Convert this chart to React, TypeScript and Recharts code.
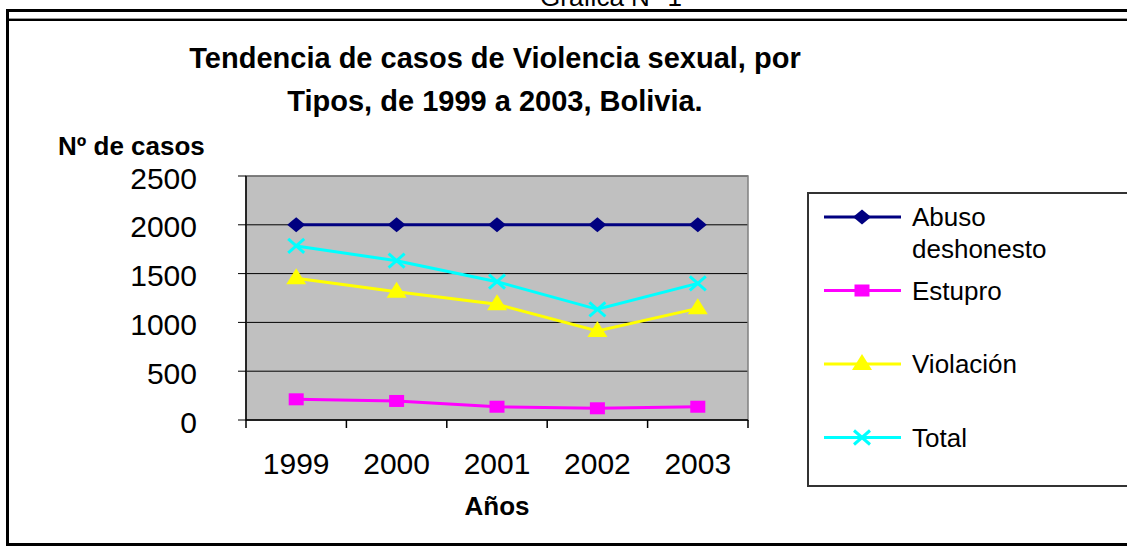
import React from "react";
import {
  LineChart,
  Line,
  XAxis,
  YAxis,
  CartesianGrid,
  ReferenceArea,
  Legend,
} from "recharts";

const years = [1999, 2000, 2001, 2002, 2003];
const abuso = [2000, 2000, 2000, 2000, 2000];
const estupro = [212, 195, 136, 120, 136];
const violacion = [1452, 1315, 1185, 912, 1144];
const total = [1783, 1632, 1417, 1134, 1400];
const yTicks = [0, 500, 1000, 1500, 2000, 2500];

const data = years.map((year, i) => ({
  year,
  abuso: abuso[i],
  estupro: estupro[i],
  violacion: violacion[i],
  total: total[i],
}));

const FONT = '"Liberation Sans", Arial, sans-serif';

type Shape = "diamond" | "square" | "triangle" | "cross";

function Marker({ cx, cy, shape, color }: { cx: number; cy: number; shape: Shape; color: string }) {
  if (cx == null || cy == null) return null;
  if (shape === "diamond")
    return <polygon points={`${cx},${cy - 7.5} ${cx + 9},${cy} ${cx},${cy + 7.5} ${cx - 9},${cy}`} fill={color} />;
  if (shape === "square") return <rect x={cx - 7.5} y={cy - 6} width={15} height={12} fill={color} />;
  if (shape === "triangle")
    return <polygon points={`${cx},${cy - 10} ${cx + 10},${cy + 6} ${cx - 10},${cy + 6}`} fill={color} />;
  return (
    <g stroke={color} strokeWidth={3}>
      <line x1={cx - 8} y1={cy - 7} x2={cx + 8} y2={cy + 7} />
      <line x1={cx - 8} y1={cy + 7} x2={cx + 8} y2={cy - 7} />
    </g>
  );
}

const series: { key: string; name: string; color: string; shape: Shape }[] = [
  { key: "abuso", name: "Abuso deshonesto", color: "#000080", shape: "diamond" },
  { key: "estupro", name: "Estupro", color: "#FF00FF", shape: "square" },
  { key: "violacion", name: "Violación", color: "#FFFF00", shape: "triangle" },
  { key: "total", name: "Total", color: "#00FFFF", shape: "cross" },
];

const renderLegend = () => (
  <svg width={330} height={295} style={{ display: "block" }}>
    {series.map((s, i) => {
      const y = 23 + i * 73.5;
      const words = s.name.split(" ");
      return (
        <g key={s.key}>
          <line x1={15} x2={92} y1={y} y2={y} stroke={s.color} strokeWidth={3} />
          <Marker cx={53} cy={y} shape={s.shape} color={s.color} />
          {words.map((w, j) => (
            <text
              key={j}
              x={103}
              y={y + j * 32}
              dominantBaseline="central"
              fontSize={26}
              fontFamily={FONT}
              fill="#000"
            >
              {w}
            </text>
          ))}
        </g>
      );
    })}
  </svg>
);

// year label at the band centre, tick marks on the band edges (Excel style)
const YearTick = (props: any) => {
  const { x, y, payload, width, visibleTicksCount, index } = props;
  const margin = props.tickMargin ?? 33;
  const band = width / visibleTicksCount;
  const axisY = y - margin;
  const edges: number[] = [];
  if (isFinite(band)) {
    edges.push(x - band / 2);
    if (index === visibleTicksCount - 1) edges.push(x + band / 2);
  }
  return (
    <g>
      {edges.map((ex, i) => (
        <line key={i} x1={ex} x2={ex} y1={axisY} y2={axisY + 8} stroke="#000" strokeWidth={1.5} />
      ))}
      <text x={x} y={y} dy="0.71em" textAnchor="middle" fontSize={30} fontFamily={FONT} fill="#000">
        {payload.value}
      </text>
    </g>
  );
};

export default function App() {
  return (
    <div
      style={{
        position: "absolute",
        left: 0,
        top: 0,
        width: 1127,
        height: 548,
        overflow: "hidden",
        background: "#fff",
        fontFamily: FONT,
      }}
    >
      <div
        style={{
          position: "absolute",
          left: 511,
          width: 200,
          top: -16,
          textAlign: "center",
          fontSize: 26,
          lineHeight: "26px",
        }}
      >
        Gráfica N° 1
      </div>
      <div
        style={{
          position: "absolute",
          left: 6,
          top: 9,
          width: 1130,
          height: 531,
          borderTop: "3px solid #000",
          borderLeft: "3px solid #000",
          borderBottom: "3px solid #000",
        }}
      />
      <div
        style={{
          position: "absolute",
          left: 9,
          top: 18,
          width: 1130,
          height: 2,
          borderTop: "1px solid #999",
          background: "#000",
        }}
      />
      <div
        style={{
          position: "absolute",
          left: 95,
          width: 800,
          top: 37,
          textAlign: "center",
          fontWeight: "bold",
          fontSize: 29,
          lineHeight: "43px",
          whiteSpace: "pre",
        }}
      >
        {"Tendencia de casos de Violencia sexual, por\nTipos, de 1999 a 2003, Bolivia."}
      </div>
      <div
        style={{ position: "absolute", left: 58, top: 133, fontWeight: "bold", fontSize: 26, lineHeight: "26px" }}
      >
        Nº de casos
      </div>
      <div
        style={{
          position: "absolute",
          left: 397,
          width: 200,
          top: 493,
          textAlign: "center",
          fontWeight: "bold",
          fontSize: 26,
          lineHeight: "26px",
        }}
      >
        Años
      </div>

      <div style={{ position: "absolute", left: 0, top: 0 }}>
        <LineChart width={1127} height={548} data={data} margin={{ top: 176, right: 379, bottom: 68, left: 0 }}>
          <CartesianGrid vertical={false} stroke="#000" fill="#C0C0C0" fillOpacity={1} />
          <ReferenceArea
            x1={1998.5}
            x2={2003.5}
            y1={0}
            y2={2500}
            fill="none"
            stroke="#808080"
            strokeWidth={1.5}
            ifOverflow="visible"
          />
          <XAxis
            dataKey="year"
            type="number"
            domain={[1998.5, 2003.5]}
            ticks={years}
            tickLine={false}
            tickSize={0}
            tickMargin={33}
            axisLine={{ stroke: "#000", strokeWidth: 1.5 }}
            tick={<YearTick />}
            height={60}
          />
          <YAxis
            domain={[0, 2500]}
            ticks={yTicks}
            width={246}
            tickSize={8}
            tickMargin={41}
            axisLine={{ stroke: "#000", strokeWidth: 1.5 }}
            tickLine={{ stroke: "#000" }}
            tick={{ fill: "#000", fontSize: 30, fontFamily: FONT, dy: 2 }}
          />
          <Legend
            layout="vertical"
            align="center"
            verticalAlign="middle"
            content={renderLegend}
            wrapperStyle={{
              left: 807,
              top: 192,
              width: 330,
              height: 295,
              border: "2px solid #333",
              boxSizing: "border-box",
              background: "#fff",
            }}
          />
          {series.map((s) => (
            <Line
              key={s.key}
              dataKey={s.key}
              name={s.name}
              stroke={s.color}
              strokeWidth={3}
              isAnimationActive={false}
              dot={(p: any) => <Marker key={`${s.key}-${p.index}`} cx={p.cx} cy={p.cy} shape={s.shape} color={s.color} />}
              activeDot={false}
            />
          ))}
        </LineChart>
      </div>
    </div>
  );
}
